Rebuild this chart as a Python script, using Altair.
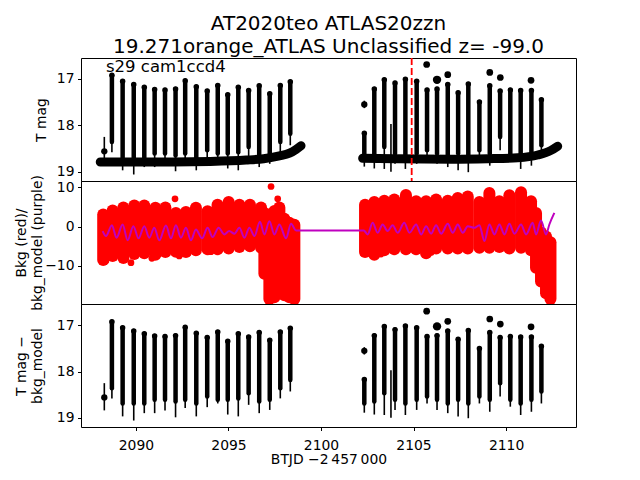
import altair as alt
import pandas as pd

# ---------------- data ----------------
# black streaks (T mag): time, top mag, lower end of dense points, lower end of error bars
streak_t = [2088.70, 2089.28, 2089.88, 2090.45, 2091.01, 2091.57, 2092.14, 2092.66, 2093.26,
            2093.85, 2094.42, 2094.96, 2095.53, 2096.09, 2096.66, 2097.23, 2097.80, 2098.34,
            2102.34, 2102.88, 2103.42, 2104.00, 2104.56, 2105.17, 2105.73, 2106.27, 2106.85,
            2107.41, 2107.96, 2108.56, 2109.12, 2109.68, 2110.23, 2110.79, 2111.37, 2111.91]
streak_top = [16.92, 17.05, 17.12, 17.18, 17.23, 17.24, 17.22, 17.04, 17.17,
              17.26, 17.14, 17.34, 17.18, 17.25, 17.15, 17.32, 17.14, 17.06,
              18.17, 17.22, 17.02, 17.09, 17.01, 17.05, 17.24, 17.22, 17.12,
              17.30, 17.11, 17.50, 17.15, 17.26, 17.24, 17.25, 17.25, 17.45]
streak_low = [18.36, 18.69, 18.69, 18.69, 18.61, 18.61, 18.65, 18.61, 18.69,
              18.54, 18.61, 18.61, 18.58, 18.47, 18.65, 18.61, 18.36, 18.18,
              18.69, 18.65, 18.47, 18.61, 18.69, 18.61, 18.54, 18.61, 18.69,
              18.61, 18.69, 18.54, 18.61, 18.25, 18.61, 18.69, 18.61, 18.43]
streak_err = [18.58, 18.97, 19.06, 18.90, 18.90, 18.84, 18.99, 18.79, 18.97,
              18.77, 18.69, 18.93, 18.97, 18.72, 18.90, 18.83, 18.58, 18.43,
              18.89, 18.93, 18.94, 18.83, 18.94, 18.83, 18.69, 18.83, 18.90,
              18.97, 19.01, 18.69, 18.87, 18.54, 18.76, 18.94, 18.87, 18.69]

# isolated points (T mag) with their error bars
dot_t = [2088.29, 2102.34, 2105.71, 2106.27, 2106.85, 2109.12, 2109.69, 2111.35, 2103.78]
dot_mag = [18.56, 17.55, 16.69, 17.02, 16.91, 16.86, 16.97, 17.03, 18.50]
dot_hi = [18.25, 17.47, 16.66, 16.99, 16.88, 16.83, 16.94, 17.00, 17.97]
dot_lo = [18.84, 17.63, 16.72, 17.05, 16.94, 16.89, 17.00, 17.06, 19.00]
dot_size = [40, 40, 45, 70, 45, 45, 45, 45, 0]

# dense baseline band in the top panel (two orbits)
band_t = [2088.07, 2090.00, 2092.00, 2094.00, 2095.95, 2096.90, 2097.75, 2098.30, 2098.65, 2098.92,
          2102.25, 2104.00, 2107.03, 2109.00, 2110.63, 2111.71, 2112.43, 2112.79]
band_mag = [18.79, 18.79, 18.79, 18.78, 18.75, 18.72, 18.66, 18.60, 18.52, 18.44,
            18.71, 18.72, 18.73, 18.72, 18.70, 18.64, 18.54, 18.45]
band_orbit = [1] * 10 + [2] * 8

# background (red) columns
bkg_t = [2088.23, 2088.74, 2089.32, 2089.91, 2090.45, 2091.05, 2091.59, 2092.16, 2092.70, 2093.24,
         2093.87, 2094.41, 2095.01, 2095.59, 2096.16, 2096.76, 2096.94, 2097.21, 2097.48, 2097.75,
         2098.02, 2098.29, 2098.56,
         2102.38, 2102.88, 2103.42, 2103.96, 2104.59, 2105.14, 2105.68, 2106.22, 2106.85, 2107.39,
         2107.93, 2108.56, 2109.10, 2109.64, 2110.18, 2110.81, 2111.35, 2111.62, 2111.89, 2112.16,
         2112.40]
bkg_top = [3.1, 4.1, 4.9, 5.4, 5.4, 4.8, 4.9, 3.5, 3.75, 4.8,
           3.9, 5.6, 6.3, 5.6, 5.6, 4.9, 3.5, 3.1, 4.0, 4.9,
           2.0, 1.0, 0.5,
           5.6, 6.3, 6.6, 6.9, 8.1, 6.5, 6.5, 6.9, 6.6, 7.3,
           7.7, 6.3, 8.6, 6.5, 8.0, 8.8, 6.5, 3.5, -1.5, -2.5,
           -4.0]
bkg_bot = [-8.5, -7.5, -8.0, -7.0, -6.8, -7.2, -6.5, -6.4, -6.5, -6.0,
           -5.8, -5.8, -5.6, -5.2, -5.0, -5.4, -12.0, -18.5, -18.0, -16.0,
           -17.5, -18.0, -18.5,
           -6.5, -7.2, -6.0, -5.8, -5.8, -5.8, -6.8, -5.6, -5.6, -5.6,
           -5.6, -5.4, -5.4, -5.2, -5.6, -5.4, -6.0, -10.5, -14.0, -17.0,
           -18.5]
bkg_pt_t = [2097.30, 2097.66, 2092.11, 2088.20, 2089.73, 2088.38, 2090.86, 2092.34, 2094.05,
            2098.20, 2097.48, 2103.24, 2105.95]
bkg_pt_v = [10.25, 7.1, 7.1, 2.9, -9.2, -8.7, -8.1, -7.5, -6.4,
            -17.9, -18.2, -7.0, -6.6]

# background model (purple)
model_t = [2088.20, 2088.38, 2088.70, 2088.95, 2089.28, 2089.55, 2089.86, 2090.14, 2090.45, 2090.72,
           2090.99, 2091.26, 2091.62, 2091.89, 2092.16, 2092.43, 2092.70, 2092.97, 2093.24, 2093.57,
           2093.87, 2094.14, 2094.47, 2094.77, 2095.04, 2095.32, 2095.59, 2095.86, 2096.13, 2096.40,
           2096.70, 2096.94, 2097.21, 2097.48, 2097.75, 2098.11, 2098.38, 2098.65, 2098.83,
           2102.31, 2102.52, 2102.79, 2103.06, 2103.33, 2103.60, 2103.87, 2104.14, 2104.50, 2104.78,
           2105.14, 2105.41, 2105.68, 2105.95, 2106.22, 2106.49, 2106.85, 2107.12, 2107.39, 2107.66,
           2107.93, 2108.29, 2108.56, 2108.83, 2109.10, 2109.37, 2109.64, 2109.91, 2110.18, 2110.45,
           2110.81, 2111.08, 2111.44, 2111.62, 2111.89, 2112.16, 2112.34, 2112.61]
model_v = [-1.14, -2.40, 0.38, -2.83, 0.55, -3.50, 0.13, -2.99, 0.13, -2.83,
           -0.29, -3.50, 0.30, -2.99, 0.38, -2.83, -0.29, -3.50, -0.72, -2.99,
           -0.29, -2.66, -0.29, -1.98, -1.14, -1.81, -0.29, -2.83, -0.29, -2.40,
           1.22, -1.98, 1.39, -1.98, 0.55, -2.99, 0.72, -0.97, -0.97,
           -0.97, -1.98, 0.97, -1.56, 0.55, -1.14, 0.38, -1.56, 0.97, -1.56,
           0.55, -1.98, 0.13, -1.81, 0.38, -1.81, 0.72, -1.56, 0.55, -1.56,
           0.13, -0.29, 0.38, -3.67, 0.55, -1.98, 0.55, -1.98, 0.72, -1.81,
           0.55, -1.98, 0.97, -1.98, 1.56, -1.98, 0.55, 3.50]

event_t = [2104.90]
x_ticks = [2090, 2095, 2100, 2105, 2110]
title_lines = ["AT2020teo  ATLAS20zzn", "19.271orange_ATLAS Unclassified z= -99.0"]
note = ["s29 cam1ccd4"]

# ---------------- frames ----------------
streaks = pd.DataFrame({"t": streak_t, "y": streak_top, "y2": streak_low, "e": streak_err})
dots = pd.DataFrame({"t": dot_t, "y": dot_mag, "s": dot_size})
dotbars = pd.DataFrame({"t": dot_t, "y": dot_hi, "e": dot_lo})
band = pd.DataFrame({"t": band_t, "y": band_mag, "orbit": band_orbit})
bkg = pd.DataFrame({"t": bkg_t, "y": bkg_top, "y2": bkg_bot})
bkg_pts = pd.DataFrame({"t": bkg_pt_t, "y": bkg_pt_v})
model = pd.DataFrame({"t": model_t, "y": model_v})
event = pd.DataFrame({"t": event_t})
notes = pd.DataFrame({"label": note})

W, H = 495, 123
FONT = "DejaVu Sans"
xscale = alt.Scale(domain=[2087.03, 2113.78], nice=False, zero=False)


def xenc(show):
    if show:
        return alt.X("t:Q", scale=xscale,
                     axis=alt.Axis(values=x_ticks, format="d", title="BTJD \u22122\u2009457\u2009000",
                                   titlePadding=1, labelPadding=7.5, tickSize=3.5))
    return alt.X("t:Q", scale=xscale, axis=None)


def yenc(domain, rev, ticks, title, tx):
    return alt.Y("y:Q", scale=alt.Scale(domain=domain, nice=False, zero=False, reverse=rev),
                 axis=alt.Axis(values=ticks, title=title, titleX=tx, titleBaseline="middle",
                               titleLineHeight=16.7, tickSize=3.5, labelPadding=3.5))


def mag_panel(ydom, title, tx, show_x, with_band):
    y = yenc(ydom, True, [17, 18, 19], title, tx)
    x = xenc(show_x)
    base = alt.Chart(streaks)
    thin = base.mark_rule(color="black", strokeWidth=1.6).encode(x=x, y=y, y2="e:Q")
    thick = base.mark_rule(color="black", strokeWidth=4.5, strokeCap="round").encode(
        x=x, y=y, y2="y2:Q")
    beads = base.mark_circle(color="black", size=30, opacity=1).encode(x=x, y=y)
    dbar = alt.Chart(dotbars).mark_rule(color="black", strokeWidth=1.6).encode(
        x=x, y=y, y2="e:Q")
    dpt = alt.Chart(dots).mark_circle(color="black", opacity=1).encode(
        x=x, y=y, size=alt.Size("s:Q", scale=None, legend=None))
    layers = [thin, thick, beads, dbar, dpt]
    if with_band:
        bl = alt.Chart(band).mark_line(color="black", strokeWidth=9, strokeCap="round",
                                       interpolate="monotone").encode(
            x=x, y=y, detail="orbit:N")
        ev = alt.Chart(event).mark_rule(color="red", strokeWidth=1.8, strokeDash=[7, 3]).encode(x=x)
        txt = alt.Chart(notes).mark_text(align="left", baseline="alphabetic", fontSize=16.5,
                                         font=FONT, color="black").encode(
            text="label:N", x=alt.value(25), y=alt.value(13.5))
        layers += [bl, ev, txt]
    return alt.layer(*layers).properties(width=W, height=H)


p1 = mag_panel([16.55, 19.2], "T mag", -40, False, True)

yb = yenc([-19.75, 11.65], False, [-10, 0, 10], ["Bkg (red)/", "bkg_model (purple)"], -60)
xb = xenc(False)
red_cols = alt.Chart(bkg).mark_rule(color="#ff0000", strokeWidth=12, strokeCap="round").encode(
    x=xb, y=yb, y2="y2:Q")
red_pts = alt.Chart(bkg_pts).mark_circle(color="#ff0000", size=45, opacity=1).encode(x=xb, y=yb)
purple = alt.Chart(model).mark_line(color="#bf00bf", strokeWidth=2, interpolate="monotone").encode(
    x=xb, y=yb)
p2 = alt.layer(red_cols, red_pts, purple).properties(width=W, height=H)

p3 = mag_panel([16.535, 19.2], ["T mag \u2212", "bkg_model"], -60, True, False)

chart = alt.vconcat(p1, p2, p3, spacing=0, bounds="flush").properties(
    title=alt.TitleParams(title_lines, fontSize=20, font=FONT, fontWeight="normal", color="black",
                          anchor="middle", frame="group", lineHeight=23, offset=0)
).configure_view(stroke="black", strokeWidth=1).configure_axis(
    labelFont=FONT, labelFontSize=13.9, labelColor="black", titleFont=FONT, titleFontSize=13.9,
    titleFontWeight="normal", titleColor="black", tickColor="black", tickWidth=1, domain=False,
    grid=False
)

chart.save("out.html", embed_options={"renderer": "svg", "actions": False})
